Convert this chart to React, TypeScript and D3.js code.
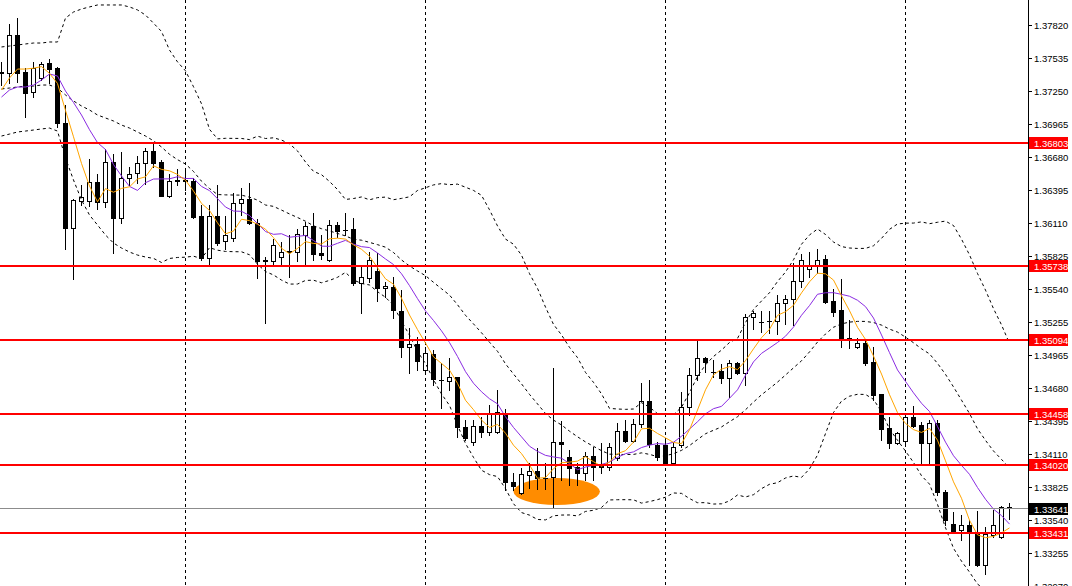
import React from 'react';
import * as d3 from 'd3';

// ---------------- data ----------------
const openPrices = [
  1.37405, 1.37405, 1.37733, 1.37414, 1.37241, 1.37362, 1.37491, 1.37448, 1.36972, 1.36065,
  1.36298, 1.36298, 1.36462, 1.36290, 1.36635, 1.36151, 1.36497, 1.36540, 1.36627, 1.36730,
  1.36635, 1.36341, 1.36480, 1.36471, 1.36471, 1.36168, 1.35805, 1.36168, 1.35952, 1.35978,
  1.36281, 1.36315, 1.36108, 1.35779, 1.35779, 1.35814, 1.35857, 1.35857, 1.36004, 1.36082,
  1.35849, 1.35788, 1.36091, 1.36047, 1.36056, 1.35589, 1.35632, 1.35693, 1.35546, 1.35555,
  1.35347, 1.35036, 1.35062, 1.34837, 1.34975, 1.34751, 1.34742, 1.34776, 1.34344, 1.34215,
  1.34353, 1.34301, 1.34301, 1.34465, 1.33869, 1.33774, 1.33929, 1.33964, 1.33903, 1.33912,
  1.34215, 1.34085, 1.33998, 1.33946, 1.34093, 1.34024, 1.33998, 1.34076, 1.34310, 1.34223,
  1.34370, 1.34569, 1.34189, 1.34189, 1.34033, 1.34189, 1.34517, 1.34794, 1.34941, 1.34820,
  1.34828, 1.34768, 1.34898, 1.34811, 1.35295, 1.35252, 1.35261, 1.35261, 1.35416, 1.35451,
  1.35607, 1.35710, 1.35736, 1.35797, 1.35434, 1.35356, 1.35114, 1.35036, 1.35070, 1.34906,
  1.34630, 1.34336, 1.34206, 1.34223, 1.34431, 1.34361, 1.34206, 1.34379, 1.33782, 1.33505,
  1.33454, 1.33497, 1.33428, 1.33151, 1.33410, 1.33393, 1.33655,
];
const highPrices = [
  1.37500, 1.37829, 1.37880, 1.37448, 1.37500, 1.37500, 1.37526, 1.37457, 1.37128, 1.36315,
  1.36436, 1.36661, 1.36532, 1.36748, 1.36704, 1.36722, 1.36592, 1.36687, 1.36756, 1.36800,
  1.36653, 1.36532, 1.36575, 1.36583, 1.36497, 1.36264, 1.36264, 1.36436, 1.36168, 1.36367,
  1.36411, 1.36454, 1.36143, 1.35814, 1.35970, 1.35944, 1.36004, 1.36056, 1.36117, 1.36194,
  1.36004, 1.36134, 1.36117, 1.36194, 1.36151, 1.35728, 1.35857, 1.35849, 1.35598, 1.35641,
  1.35529, 1.35200, 1.35122, 1.35036, 1.35010, 1.34898, 1.34941, 1.34780, 1.34405, 1.34405,
  1.34431, 1.34534, 1.34664, 1.34500, 1.33946, 1.33990, 1.34033, 1.34163, 1.34033, 1.34854,
  1.34396, 1.34145, 1.34033, 1.34128, 1.34171, 1.34206, 1.34206, 1.34379, 1.34405, 1.34413,
  1.34725, 1.34751, 1.34215, 1.34232, 1.34215, 1.34647, 1.34854, 1.35105, 1.34949, 1.34923,
  1.34889, 1.34923, 1.34906, 1.35321, 1.35347, 1.35347, 1.35347, 1.35485, 1.35485, 1.35762,
  1.35840, 1.35857, 1.35883, 1.35831, 1.35537, 1.35624, 1.35269, 1.35114, 1.35096, 1.35036,
  1.34630, 1.34431, 1.34301, 1.34465, 1.34526, 1.34387, 1.34405, 1.34405, 1.33799, 1.33609,
  1.33583, 1.33540, 1.33618, 1.33480, 1.33627, 1.33661, 1.33687,
];
const lowPrices = [
  1.37301, 1.37318, 1.37327, 1.37024, 1.37197, 1.37344, 1.37318, 1.36938, 1.35883, 1.35624,
  1.36264, 1.36255, 1.36229, 1.36246, 1.35849, 1.36108, 1.36436, 1.36454, 1.36445, 1.36592,
  1.36341, 1.36333, 1.36436, 1.36393, 1.36151, 1.35788, 1.35745, 1.35918, 1.35883, 1.35952,
  1.36177, 1.36099, 1.35632, 1.35243, 1.35745, 1.35745, 1.35641, 1.35779, 1.35745, 1.35788,
  1.35797, 1.35779, 1.35987, 1.36004, 1.35572, 1.35330, 1.35598, 1.35434, 1.35468, 1.35287,
  1.34949, 1.34811, 1.34837, 1.34811, 1.34707, 1.34508, 1.34664, 1.34258, 1.34232, 1.34189,
  1.34258, 1.34275, 1.34292, 1.33799, 1.33799, 1.33765, 1.33817, 1.33808, 1.33808, 1.33644,
  1.33886, 1.33843, 1.33843, 1.33886, 1.33886, 1.33946, 1.33972, 1.34059, 1.34215, 1.34215,
  1.34344, 1.34171, 1.34059, 1.34024, 1.34024, 1.34171, 1.34448, 1.34751, 1.34820, 1.34776,
  1.34725, 1.34604, 1.34802, 1.34707, 1.35191, 1.35165, 1.35157, 1.35148, 1.35235, 1.35226,
  1.35555, 1.35641, 1.35676, 1.35416, 1.35304, 1.35036, 1.35027, 1.35027, 1.34880, 1.34578,
  1.34232, 1.34163, 1.34197, 1.34189, 1.34344, 1.34033, 1.34033, 1.33756, 1.33497, 1.33436,
  1.33367, 1.33151, 1.33143, 1.33073, 1.33393, 1.33385, 1.33549,
];
const closePrices = [
  1.37414, 1.37733, 1.37405, 1.37232, 1.37448, 1.37483, 1.37439, 1.36972, 1.36065, 1.36307,
  1.36333, 1.36462, 1.36290, 1.36635, 1.36151, 1.36497, 1.36532, 1.36627, 1.36730, 1.36627,
  1.36341, 1.36471, 1.36471, 1.36480, 1.36160, 1.35805, 1.36168, 1.35935, 1.36004, 1.36281,
  1.36315, 1.36108, 1.35779, 1.35788, 1.35918, 1.35857, 1.35866, 1.36013, 1.36082, 1.35840,
  1.35831, 1.36091, 1.36039, 1.36045, 1.35589, 1.35641, 1.35788, 1.35546, 1.35563, 1.35356,
  1.35036, 1.35062, 1.34915, 1.34984, 1.34759, 1.34749, 1.34776, 1.34344, 1.34249, 1.34353,
  1.34301, 1.34457, 1.34474, 1.33869, 1.33834, 1.33938, 1.33964, 1.33903, 1.33900, 1.34215,
  1.34197, 1.33990, 1.33946, 1.34093, 1.33998, 1.33998, 1.34171, 1.34310, 1.34223, 1.34370,
  1.34569, 1.34197, 1.34085, 1.34033, 1.34171, 1.34517, 1.34794, 1.34941, 1.34906, 1.34818,
  1.34768, 1.34898, 1.34811, 1.35295, 1.35330, 1.35250, 1.35259, 1.35416, 1.35451, 1.35607,
  1.35788, 1.35736, 1.35788, 1.35425, 1.35338, 1.35105, 1.35096, 1.35070, 1.34898, 1.34621,
  1.34327, 1.34206, 1.34292, 1.34431, 1.34353, 1.34206, 1.34379, 1.33782, 1.33540, 1.33445,
  1.33497, 1.33428, 1.33151, 1.33419, 1.33497, 1.33652, 1.33641,
];

// indicator values before their look-back windows are full
const fastMALead = [1.37258, 1.37362, 1.37439, 1.37439];
const slowMALead = [1.37197, 1.37258, 1.37284, 1.37284, 1.37301, 1.37344, 1.37396, 1.37379, 1.37249];
const bandUpperLead = [
  1.37630, 1.37638, 1.37647, 1.37656, 1.37664, 1.37664, 1.37673, 1.37673, 1.37880, 1.37932,
  1.37958, 1.37976, 1.37993, 1.37993, 1.37993, 1.37993, 1.37976, 1.37950, 1.37906,
];
const bandMiddleLead = [
  1.37267, 1.37275, 1.37284, 1.37292, 1.37292, 1.37301, 1.37301, 1.37275, 1.37215, 1.37163,
  1.37120, 1.37085, 1.37042, 1.37016, 1.36990, 1.36955, 1.36929, 1.36895, 1.36860,
];
const bandLowerLead = [
  1.36860, 1.36877, 1.36895, 1.36903, 1.36912, 1.36921, 1.36929, 1.36903, 1.36670, 1.36480,
  1.36307, 1.36177, 1.36091, 1.36004, 1.35935, 1.35892, 1.35857, 1.35831, 1.35814,
];

const priceTicks = [
  1.37820, 1.37535, 1.37250, 1.36965, 1.36680, 1.36395, 1.36110, 1.35825, 1.35540,
  1.35255, 1.34965, 1.34680, 1.34395, 1.34110, 1.33825, 1.33540, 1.33255, 1.32970,
];
const levelLines = [1.36803, 1.35738, 1.35094, 1.34458, 1.34020, 1.33431];
const currentPrice = 1.33641;
const separatorBars = [23, 53, 83, 113];
const highlightZone = { fromBar: 64, toBar: 74.8, top: 1.33903, bottom: 1.33670 };

const FAST_PERIOD = 5;
const SLOW_PERIOD = 10;
const BAND_PERIOD = 20;
const BAND_DEV = 2;

// ---------------- layout ----------------
const W = 1072;
const H = 586;
const AXIS_X = 1028;
const FIRST_BAR_X = 1.5;
const BAR_STEP = 8;
const PRICE_MIN = 1.3297;
const PRICE_MAX = 1.38036;

function movingAverage(period: number, lead: number[]) {
  return closePrices.map((_, i) =>
    i < period - 1 ? lead[i] : (d3.mean(closePrices.slice(i - period + 1, i + 1)) as number)
  );
}

function bands() {
  const up: number[] = [];
  const mid: number[] = [];
  const lo: number[] = [];
  closePrices.forEach((_, i) => {
    if (i < BAND_PERIOD - 1) {
      up.push(bandUpperLead[i]);
      mid.push(bandMiddleLead[i]);
      lo.push(bandLowerLead[i]);
    } else {
      const w = closePrices.slice(i - BAND_PERIOD + 1, i + 1);
      const m = d3.mean(w) as number;
      const sd = Math.sqrt(d3.mean(w.map((v) => (v - m) * (v - m))) as number);
      up.push(m + BAND_DEV * sd);
      mid.push(m);
      lo.push(m - BAND_DEV * sd);
    }
  });
  return { up, mid, lo };
}

export default function App() {
  const n = closePrices.length;
  const x = d3.scaleLinear().domain([0, n - 1]).range([FIRST_BAR_X, FIRST_BAR_X + BAR_STEP * (n - 1)]);
  const y = d3.scaleLinear().domain([PRICE_MIN, PRICE_MAX]).range([H, 0]);

  const fast = movingAverage(FAST_PERIOD, fastMALead);
  const slow = movingAverage(SLOW_PERIOD, slowMALead);
  const bb = bands();

  const line = d3
    .line<number>()
    .x((_, i) => x(i))
    .y((v) => y(v));

  const font = '"Liberation Sans", Arial, sans-serif';

  const zx1 = x(highlightZone.fromBar);
  const zx2 = x(highlightZone.toBar);
  const zy1 = y(highlightZone.top);
  const zy2 = y(highlightZone.bottom);

  return (
    <div style={{ position: 'fixed', left: 0, top: 0, width: W, height: H, background: '#fff' }}>
      <svg width={W} height={H} style={{ display: 'block' }}>
        <rect x={0} y={0} width={W} height={H} fill="#fff" />
        <defs>
          <clipPath id="plot">
            <rect x={0} y={0} width={AXIS_X} height={H} />
          </clipPath>
        </defs>
        <g clipPath="url(#plot)">
          {/* period separators */}
          {separatorBars.map((b) => (
            <line
              key={'sep' + b}
              x1={x(b)}
              x2={x(b)}
              y1={0}
              y2={H}
              stroke="#000"
              strokeWidth={1}
              strokeDasharray="3,3"
              shapeRendering="crispEdges"
            />
          ))}
          {/* highlight ellipse */}
          <ellipse
            cx={(zx1 + zx2) / 2}
            cy={(zy1 + zy2) / 2}
            rx={(zx2 - zx1) / 2}
            ry={(zy2 - zy1) / 2}
            fill="#FF8C00"
          />
          {/* candles */}
          {closePrices.map((c, i) => {
            const o = openPrices[i];
            const cx = x(i);
            const yH = Math.round(y(highPrices[i]));
            const yL = Math.round(y(lowPrices[i]));
            const yTop = Math.round(y(Math.max(o, c)));
            const yBot = Math.round(y(Math.min(o, c)));
            const doji = yBot - yTop < 1;
            return (
              <g key={'c' + i} shapeRendering="crispEdges">
                <line x1={cx} x2={cx} y1={yH} y2={yL + 1} stroke="#000" strokeWidth={1} />
                {doji ? (
                  <line x1={cx - 2.5} x2={cx + 2.5} y1={yTop + 0.5} y2={yTop + 0.5} stroke="#000" strokeWidth={1} />
                ) : c < o ? (
                  <rect x={cx - 2.5} y={yTop} width={5} height={Math.max(1, yBot - yTop + 1)} fill="#000" />
                ) : (
                  <rect
                    x={cx - 2}
                    y={yTop + 0.5}
                    width={4}
                    height={Math.max(1, yBot - yTop)}
                    fill="#fff"
                    stroke="#000"
                    strokeWidth={1}
                  />
                )}
              </g>
            );
          })}
          {/* bollinger bands */}
          {[bb.up, bb.mid, bb.lo].map((s, j) => (
            <path
              key={'bb' + j}
              d={line(s) || ''}
              fill="none"
              stroke="#000"
              strokeWidth={1}
              strokeDasharray="3,3"
            />
          ))}
          {/* moving averages */}
          <path d={line(slow) || ''} fill="none" stroke="#8A2BE2" strokeWidth={1} />
          <path d={line(fast) || ''} fill="none" stroke="#FFA500" strokeWidth={1} />
          {/* current price line */}
          <line
            x1={0}
            x2={AXIS_X}
            y1={Math.round(y(currentPrice)) + 0.5}
            y2={Math.round(y(currentPrice)) + 0.5}
            stroke="#8c8c8c"
            strokeWidth={1}
            shapeRendering="crispEdges"
          />
          {/* level lines */}
          {levelLines.map((v) => (
            <line
              key={'lv' + v}
              x1={0}
              x2={AXIS_X}
              y1={Math.round(y(v))}
              y2={Math.round(y(v))}
              stroke="#FF0000"
              strokeWidth={2}
              shapeRendering="crispEdges"
            />
          ))}
        </g>
        {/* price axis */}
        <line x1={AXIS_X + 0.5} x2={AXIS_X + 0.5} y1={0} y2={H} stroke="#000" shapeRendering="crispEdges" />
        {priceTicks.map((v) => {
          const yy = Math.round(y(v));
          return (
            <g key={'t' + v}>
              <line x1={AXIS_X} x2={AXIS_X + 4} y1={yy + 0.5} y2={yy + 0.5} stroke="#000" shapeRendering="crispEdges" />
              <text x={AXIS_X + 6} y={yy + 4} fontFamily={font} fontSize={9.5} fill="#000">
                {v.toFixed(5)}
              </text>
            </g>
          );
        })}
        {levelLines.map((v) => {
          const yy = Math.round(y(v));
          return (
            <g key={'lb' + v}>
              <rect x={AXIS_X + 1} y={yy - 6} width={39} height={12} fill="#FF0000" shapeRendering="crispEdges" />
              <text x={AXIS_X + 6} y={yy + 4} fontFamily={font} fontSize={9.5} fill="#fff">
                {v.toFixed(5)}
              </text>
            </g>
          );
        })}
        {(() => {
          const yy = Math.round(y(currentPrice));
          return (
            <g>
              <rect x={AXIS_X + 1} y={yy - 5} width={39} height={12} fill="#000" shapeRendering="crispEdges" />
              <text x={AXIS_X + 6} y={yy + 5} fontFamily={font} fontSize={9.5} fill="#fff">
                {currentPrice.toFixed(5)}
              </text>
            </g>
          );
        })()}
      </svg>
    </div>
  );
}
